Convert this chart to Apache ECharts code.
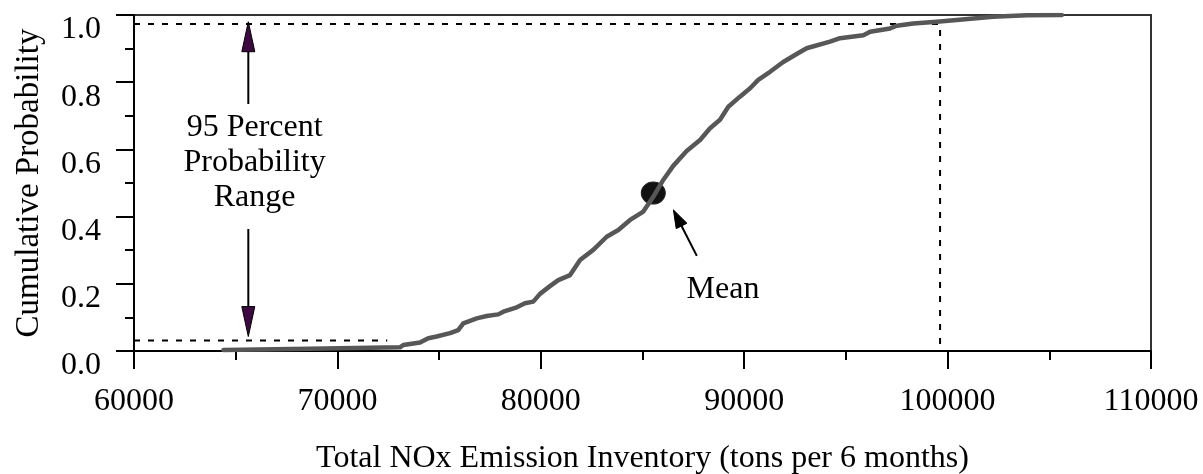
<!DOCTYPE html>
<html>
<head>
<meta charset="utf-8">
<title>Cumulative distribution of total NOx emission inventory</title>
<script src="https://cdn.jsdelivr.net/npm/echarts@6/dist/echarts.min.js"></script>
<style>
  html, body { margin: 0; padding: 0; background: #ffffff; }
  #chart { width: 1203px; height: 474px; }
</style>
</head>
<body>
<div id="chart"></div>
<script>
// Empirical cumulative distribution of the simulated inventory
const emissionTons = [
  64400, 68650, 71600, 73080, 73240, 74060, 74470, 74880, 75540, 75940,
  76190, 76850, 77340, 77910, 78160, 78820, 79220, 79630, 79960, 80450,
  80860, 81440, 81930, 82580, 83240, 83810, 84390, 85040, 85530, 86020,
  86510, 87170, 87830, 88320, 88810, 89220, 89790, 90290, 90690, 91270,
  91920, 92580, 93070, 94220, 94710, 95860, 96190, 97170, 97500, 98310,
  99470, 100450, 102230, 103890, 105610
];
const cumulativeProb = [
  0.003, 0.007, 0.010, 0.011, 0.018, 0.025, 0.038, 0.043, 0.053, 0.062,
  0.082, 0.097, 0.104, 0.109, 0.117, 0.130, 0.142, 0.147, 0.170, 0.193,
  0.211, 0.226, 0.271, 0.301, 0.340, 0.360, 0.390, 0.415, 0.459, 0.509,
  0.551, 0.595, 0.628, 0.663, 0.688, 0.727, 0.757, 0.782, 0.807, 0.831,
  0.860, 0.884, 0.901, 0.921, 0.931, 0.940, 0.950, 0.960, 0.968, 0.975,
  0.980, 0.985, 0.995, 0.999, 1.000
];

// Mean of the distribution
const meanPoint = [85530, 0.47];

// 95 percent probability range guides
const rangeLowProb = 0.031;
const rangeHighProb = 0.973;
const rangeLowX = 72450;
const rangeHighX = 99630;
const axisStartX = 60000;

// Arrows: [tailX, tailY, tipX, tipY]
const rangeArrows = [
  [65620, 0.735, 65620, 0.980],
  [65620, 0.363, 65620, 0.043]
];
const meanArrow = [
  [87670, 0.283, 86520, 0.420]
];

// Annotation texts: [x, y, text]
const annotations = [
  [65930, 0.561, '95 Percent\nProbability\nRange'],
  [88960, 0.182, 'Mean']
];

const xTickValues = { min: 60000, max: 110000, step: 10000 };
const yTickValues = { min: 0, max: 1, step: 0.2 };

const FONT = '"Liberation Serif", "Times New Roman", serif';

function arrowRenderer(headLen, headWidth, headColor, shaftColor) {
  return function (params, api) {
    const tail = api.coord([api.value(0), api.value(1)]);
    const tip = api.coord([api.value(2), api.value(3)]);
    const dx = tip[0] - tail[0], dy = tip[1] - tail[1];
    const len = Math.sqrt(dx * dx + dy * dy);
    const ux = dx / len, uy = dy / len;
    const base = [tip[0] - ux * headLen, tip[1] - uy * headLen];
    const px = -uy * headWidth / 2, py = ux * headWidth / 2;
    return {
      type: 'group',
      children: [
        {
          type: 'line',
          shape: { x1: tail[0], y1: tail[1], x2: base[0], y2: base[1] },
          style: { stroke: shaftColor, lineWidth: 2 }
        },
        {
          type: 'polygon',
          shape: { points: [tip, [base[0] + px, base[1] + py], [base[0] - px, base[1] - py]] },
          style: { fill: headColor, stroke: shaftColor, lineWidth: 1 }
        }
      ]
    };
  };
}

const chart = echarts.init(document.getElementById('chart'), null, { renderer: 'canvas' });

const axisLineStyle = { color: '#000000', width: 2 };

chart.setOption({
  animation: false,
  backgroundColor: '#ffffff',
  textStyle: { fontFamily: FONT },
  grid: {
    left: 134, right: 52, top: 15, bottom: 123,
    outerBoundsMode: 'none',
    containLabel: false,
    show: true, borderColor: '#333333', borderWidth: 2, backgroundColor: 'transparent'
  },
  xAxis: {
    type: 'value',
    min: xTickValues.min, max: xTickValues.max, interval: xTickValues.step,
    name: 'Total NOx Emission Inventory (tons per 6 months)',
    nameLocation: 'middle',
    nameGap: 92,
    nameTextStyle: { fontFamily: FONT, fontSize: 32, color: '#000000' },
    axisLine: { show: true, onZero: false, lineStyle: axisLineStyle },
    axisTick: { show: true, inside: false, length: 18, lineStyle: axisLineStyle },
    minorTick: { show: true, splitNumber: 2, length: 9, lineStyle: axisLineStyle },
    axisLabel: {
      fontFamily: FONT, fontSize: 32, color: '#000000', margin: 35,
      formatter: function (v) { return String(v); }
    },
    splitLine: { show: false }
  },
  yAxis: {
    type: 'value',
    min: yTickValues.min, max: yTickValues.max, interval: yTickValues.step,
    name: 'Cumulative Probability',
    nameLocation: 'middle',
    nameGap: 88,
    nameTextStyle: { fontFamily: FONT, fontSize: 33, color: '#000000' },
    axisLine: { show: true, onZero: false, lineStyle: axisLineStyle },
    axisTick: { show: true, inside: false, length: 18, lineStyle: axisLineStyle },
    minorTick: { show: true, splitNumber: 2, length: 9, lineStyle: axisLineStyle },
    axisLabel: {
      fontFamily: FONT, fontSize: 32, color: '#000000', margin: 33,
      verticalAlign: 'top', lineHeight: 30,
      formatter: function (v) { return v.toFixed(1); }
    },
    splitLine: { show: false }
  },
  series: [
    {
      name: 'upper guide',
      type: 'line',
      data: [[axisStartX, rangeHighProb], [rangeHighX, rangeHighProb], [rangeHighX, 0]],
      symbol: 'none',
      silent: true,
      z: 2,
      lineStyle: { color: '#000000', width: 2, type: [6, 8] }
    },
    {
      name: 'lower guide',
      type: 'line',
      data: [[axisStartX, rangeLowProb], [rangeLowX, rangeLowProb]],
      symbol: 'none',
      silent: true,
      z: 2,
      lineStyle: { color: '#000000', width: 2, type: [6, 8] }
    },
    {
      name: 'mean',
      type: 'scatter',
      data: [meanPoint],
      symbol: 'circle',
      symbolSize: [24, 22],
      z: 3,
      itemStyle: { color: '#111111', opacity: 1, borderColor: '#222222', borderWidth: 1 }
    },
    {
      name: 'CDF',
      type: 'line',
      data: emissionTons.map(function (x, i) { return [x, cumulativeProb[i]]; }),
      symbol: 'none',
      z: 5,
      lineStyle: { color: '#575757', width: 4.5, join: 'round', cap: 'round' }
    },
    {
      name: 'range arrows',
      type: 'custom',
      data: rangeArrows,
      encode: { x: [0, 2], y: [1, 3] },
      clip: false,
      z: 6,
      renderItem: arrowRenderer(30, 13, '#3c0a40', '#000000')
    },
    {
      name: 'mean arrow',
      type: 'custom',
      data: meanArrow,
      encode: { x: [0, 2], y: [1, 3] },
      clip: false,
      z: 6,
      renderItem: arrowRenderer(18, 12, '#000000', '#000000')
    },
    {
      name: 'annotations',
      type: 'custom',
      data: annotations,
      encode: { x: 0, y: 1 },
      clip: false,
      z: 7,
      renderItem: function (params, api) {
        const p = api.coord([api.value(0), api.value(1)]);
        return {
          type: 'text',
          x: p[0], y: p[1],
          style: {
            text: annotations[params.dataIndex][2],
            fontFamily: FONT, fontSize: 32, lineHeight: 35,
            fill: '#000000', align: 'center', verticalAlign: 'middle'
          }
        };
      }
    }
  ]
});
</script>
</body>
</html>
